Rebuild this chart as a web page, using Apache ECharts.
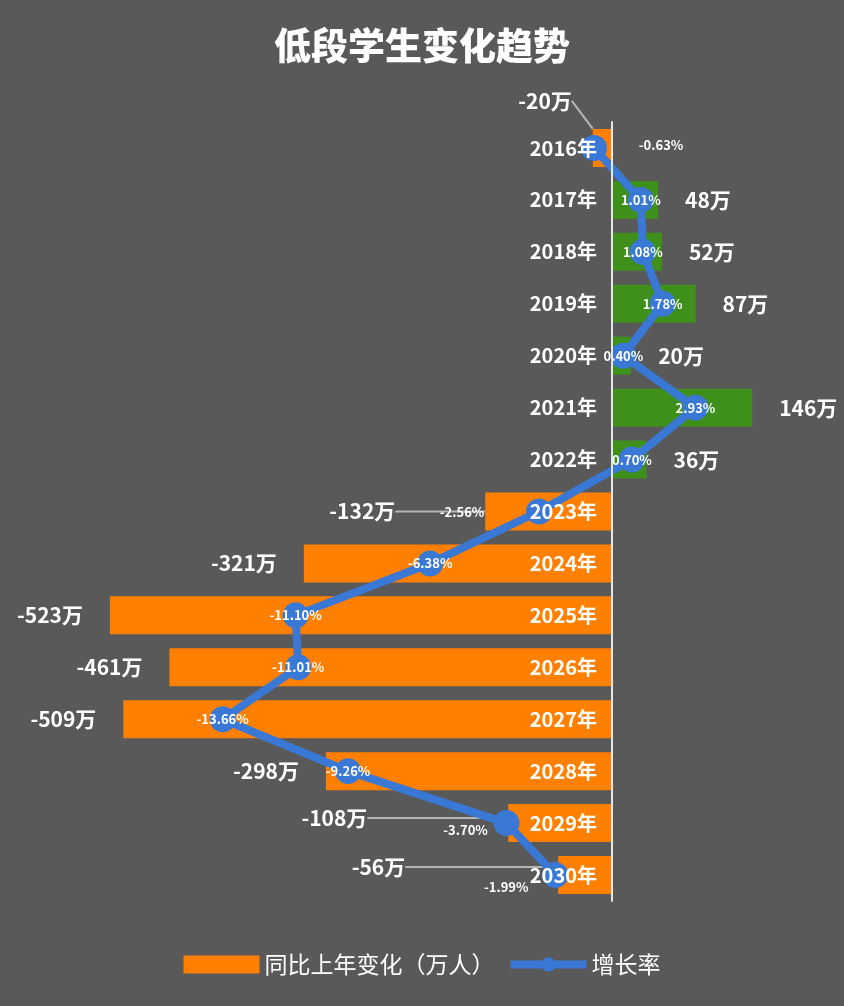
<!DOCTYPE html>
<html><head><meta charset="utf-8">
<script src="https://cdn.jsdelivr.net/npm/echarts@6/dist/echarts.min.js"></script>
<style>html,body{margin:0;padding:0;background:#595959;}#c{width:844px;height:1006px;}</style>
</head><body><div id="c"></div>
<script>
const years = ['2016年','2017年','2018年','2019年','2020年','2021年','2022年','2023年','2024年','2025年','2026年','2027年','2028年','2029年','2030年'];
const changeWan = [-20, 48, 52, 87, 20, 146, 36, -132, -321, -523, -461, -509, -298, -108, -56];
const growthPct = [-0.63, 1.01, 1.08, 1.78, 0.40, 2.93, 0.70, -2.56, -6.38, -11.10, -11.01, -13.66, -9.26, -3.70, -1.99];

const ORANGE = '#FF8000', GREEN = '#3F8F1B', BLUE = '#3A78D6';
const FONT = '"Noto Sans CJK SC", "Noto Sans", sans-serif';

// value axis ranges (zero of both lands at the same place)
const BAR_MIN = -550, BAR_MAX = 200;
const PCT_MIN = -18.526, PCT_MAX = 6.737;
const GRID_LEFT = 84, GRID_RIGHT = 40;
const GRID_W = 844 - GRID_LEFT - GRID_RIGHT;
const ZERO_SHIFT = GRID_W * (-BAR_MIN) / (BAR_MAX - BAR_MIN); // distance of zero from grid left

// label adjustments (moved bar labels with guide lines)
const barLabelMove = {0: [6, -47], 7: [-63, 0], 13: [-114, -5], 14: [-126, -8]};
const lineLabelOffset = {0: [67, -3], 7: [-77, 1], 13: [-41, 7], 14: [-49, 12]};

const barData = changeWan.map((v, i) => {
  const item = {value: v, label: {position: v < 0 ? 'left' : 'right'}};
  if (barLabelMove[i]) item.labelLine = {show: true};
  return item;
});
const lineData = growthPct.map((v, i) => {
  const item = {value: v};
  if (lineLabelOffset[i]) item.label = {offset: lineLabelOffset[i]};
  return item;
});

const chart = echarts.init(document.getElementById('c'));
chart.setOption({
  backgroundColor: '#595959',
  animation: false,
  textStyle: {fontFamily: FONT},
  title: {
    text: '低段学生变化趋势', left: 'center', top: 22,
    textStyle: {color: '#fff', fontSize: 37, fontWeight: 900, fontFamily: FONT}
  },
  legend: {
    bottom: 25, left: 'center', itemWidth: 76, itemHeight: 18, itemGap: 12,
    textStyle: {color: '#fff', fontSize: 23, fontFamily: FONT},
    data: [
      {name: '同比上年变化（万人）', icon: 'rect', itemStyle: {color: ORANGE}},
      {name: '增长率', lineStyle: {width: 8, color: BLUE}, itemStyle: {color: BLUE}}
    ]
  },
  grid: {left: GRID_LEFT, right: GRID_RIGHT, top: 122, bottom: 105},
  xAxis: [
    {type: 'value', min: BAR_MIN, max: BAR_MAX, show: false, splitLine: {show: false}},
    {type: 'value', min: PCT_MIN, max: PCT_MAX, show: false, splitLine: {show: false}}
  ],
  yAxis: {
    type: 'category', inverse: true, data: years, z: 10,
    position: 'left', offset: -ZERO_SHIFT,
    axisLine: {show: true, onZero: false, lineStyle: {color: '#e6e6e6', width: 2}},
    axisTick: {show: false},
    axisLabel: {color: '#fff', fontSize: 20, fontWeight: 'bold', margin: 15, fontFamily: FONT}
  },
  series: [
    {
      name: '同比上年变化（万人）', type: 'bar', xAxisIndex: 0, barWidth: 38,
      data: barData,
      itemStyle: {color: p => (p.value < 0 ? ORANGE : GREEN)},
      label: {show: true, distance: 27, color: '#fff', fontSize: 21, fontWeight: 'bold', fontFamily: FONT, formatter: '{c}万'},
      labelLine: {show: false, lineStyle: {color: '#b5b5b5', width: 2}},
      labelLayout: p => {
        const m = barLabelMove[p.dataIndex];
        return m ? {dx: m[0], dy: m[1]} : {};
      }
    },
    {
      name: '增长率', type: 'line', xAxisIndex: 1, z: 5,
      data: lineData,
      symbol: 'circle', symbolSize: 26,
      lineStyle: {color: BLUE, width: 8},
      itemStyle: {color: BLUE},
      label: {
        show: true, position: 'inside', color: '#fff', fontSize: 13, fontWeight: 600, fontFamily: FONT,
        formatter: p => p.value.toFixed(2) + '%'
      }
    }
  ]
});
</script>
</body></html>
